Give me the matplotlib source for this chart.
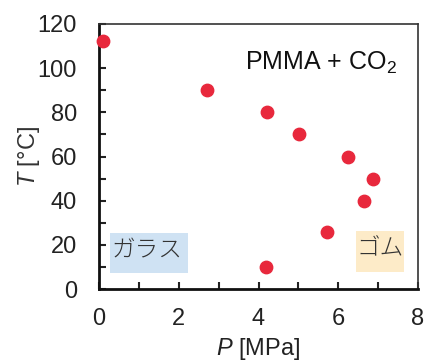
import matplotlib
matplotlib.use('Agg')
import matplotlib.pyplot as plt
from matplotlib.patches import Rectangle
from matplotlib.ticker import MultipleLocator

plt.rcParams['font.family'] = ['Liberation Sans', 'Noto Sans CJK JP', 'DejaVu Sans']
plt.rcParams['mathtext.fontset'] = 'custom'
plt.rcParams['mathtext.rm'] = 'Liberation Sans'
plt.rcParams['mathtext.it'] = 'Liberation Sans:italic'

# data
pressure = [0.1, 2.7, 4.22, 5.02, 6.25, 6.88, 6.65, 5.72, 4.2]   # MPa
temperature = [112.5, 90, 80, 70, 60, 50, 40, 26, 10]           # degC

x_ticks = [0, 2, 4, 6, 8]
y_ticks = [0, 20, 40, 60, 80, 100, 120]

fig = plt.figure(figsize=(4.27, 3.64), dpi=100)
ax = fig.add_axes([99 / 427, 1 - 289 / 364, 319 / 427, 265 / 364])

ax.scatter(pressure, temperature, s=80, color='#e8283c', zorder=3, clip_on=False)

ax.set_xlim(0, 8)
ax.set_ylim(0, 120)
ax.set_xticks(x_ticks)
ax.set_yticks(y_ticks)
ax.xaxis.set_minor_locator(MultipleLocator(1))
ax.yaxis.set_minor_locator(MultipleLocator(10))
ax.tick_params(which='both', direction='in', length=5, width=1.5, colors='#222222',
               labelsize=17, top=False, right=False)
ax.tick_params(axis='y', pad=16)
ax.tick_params(axis='x', pad=14)

for side in ['left', 'bottom']:
    ax.spines[side].set_linewidth(2)
    ax.spines[side].set_color('#111111')
for side in ['top', 'right']:
    ax.spines[side].set_linewidth(1.2)
    ax.spines[side].set_color('#333333')

ax.set_xlabel(r'$\it{P}$ [MPa]', fontsize=17, color='#222222', labelpad=4)
ax.set_ylabel(r'$\it{T}$ [°C]', fontsize=17, color='#333333', labelpad=-3)

ax.text(0.934, 0.826, r'PMMA + CO$_2$', transform=ax.transAxes, ha='right', va='baseline',
        fontsize=18, color='#111111')

# region label boxes (axes coordinates)
ax.add_patch(Rectangle((0.0345, 0.060), 0.2445, 0.151, transform=ax.transAxes,
                       fc='#cfe2f3', ec='none', zorder=1))
ax.add_patch(Rectangle((0.806, 0.064), 0.150, 0.155, transform=ax.transAxes,
                       fc='#fdebc8', ec='none', zorder=1))

ax.text(0.151, 0.145, 'ガラス', transform=ax.transAxes, ha='center', va='center',
        fontsize=17, color='#333333', family=['Noto Sans CJK JP', 'DejaVu Sans'],
        fontweight='light', zorder=2)
ax.text(0.881, 0.150, 'ゴム', transform=ax.transAxes, ha='center', va='center',
        fontsize=17, color='#333333', family=['Noto Sans CJK JP', 'DejaVu Sans'],
        fontweight='light', zorder=2)

fig.savefig('out.png', dpi=100)
